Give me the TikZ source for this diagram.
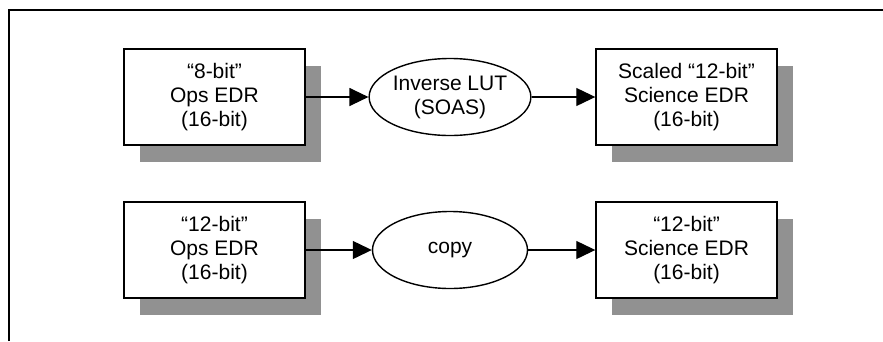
\documentclass[tikz,border=0pt]{standalone}
\usepackage{fontspec}
\setmainfont{Liberation Sans}
\usetikzlibrary{arrows.meta,shapes.geometric,shadows}
\definecolor{shadowgray}{RGB}{145,145,145}
\begin{document}
\begin{tikzpicture}[x=1pt,y=-1pt,
        edr box/.style={draw, line width=1.4pt, fill=white, align=center,
            minimum width=181pt, minimum height=96pt, inner sep=0pt,
            drop shadow={shadow xshift=16pt, shadow yshift=-17pt, fill=shadowgray, opacity=1}},
        process/.style={draw, ellipse, line width=1.4pt, fill=white, align=center,
            minimum width=155pt, minimum height=77pt, inner sep=0pt},
        flow/.style={line width=1.2pt, -{Triangle[length=19pt, width=18pt]}},
        font=\fontsize{21}{24}\selectfont]
    \useasboundingbox (0,0) rectangle (883,341);
    % frame
    \draw[line width=2.6pt] (9,341) -- (9,10) -- (883,10);
    % upper row
    \node[edr box] (ops8) at (214.5,97) {``8-bit''\\Ops EDR\\(16-bit)};
    \node[process] (invlut) at (450,97) {Inverse LUT\\(SOAS)};
    \node[edr box] (sci12s) at (686.5,97) {Scaled ``12-bit''\\Science EDR\\(16-bit)};
    % lower row
    \node[edr box] (ops12) at (214.5,250) {``12-bit''\\Ops EDR\\(16-bit)};
    \node[process] (copy) at (450,250) {copy};
    \node[edr box] (sci12) at (686.5,250) {``12-bit''\\Science EDR\\(16-bit)};
    \draw[flow] (ops8) -- (invlut);
    \draw[flow] (invlut) -- (sci12s);
    \draw[flow] (ops12) -- (copy);
    \draw[flow] (copy) -- (sci12);
\end{tikzpicture}
\end{document}
